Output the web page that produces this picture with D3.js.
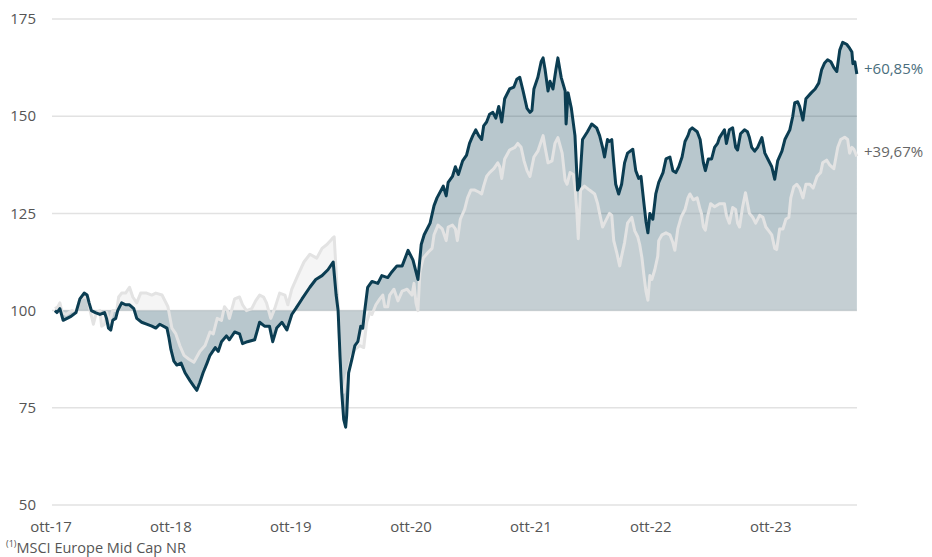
<!DOCTYPE html>
<html lang="it">
<head>
<meta charset="utf-8">
<title>Fondo vs indice</title>
<script src="https://cdn.jsdelivr.net/npm/d3@7"></script>
<style>
  body { margin: 0; background: #fff; }
  svg text { font-family: "Open Sans", "Noto Sans", sans-serif; }
</style>
</head>
<body>
<svg width="932" height="557"></svg>
<script>
// fund (dark line) and benchmark (light line), base 100
const fund = [
  ["2017-10-13",100],["2017-10-19",99.5],["2017-10-28",100.5],["2017-11-07",97.5],["2017-11-19",98],
  ["2017-12-01",98.5],["2017-12-16",99.5],["2017-12-28",103],["2018-01-10",104.5],["2018-01-19",104],
  ["2018-01-25",102],["2018-02-01",100],["2018-02-13",99.5],["2018-02-27",99],["2018-03-13",99.5],
  ["2018-03-19",98],["2018-03-25",95.5],["2018-04-01",95],["2018-04-07",97.5],["2018-04-16",98],
  ["2018-04-22",100],["2018-05-04",102],["2018-05-16",101.5],["2018-05-28",101.5],["2018-06-10",100.5],
  ["2018-06-19",98],["2018-07-04",97],["2018-07-19",96.5],["2018-08-04",96],["2018-08-16",95.5],
  ["2018-08-28",96.5],["2018-09-19",95.5],["2018-09-25",93],["2018-10-01",90],["2018-10-10",87],
  ["2018-10-19",86],["2018-11-01",86.5],["2018-11-13",84],["2018-11-28",82],["2018-12-10",80.5],
  ["2018-12-19",79.5],["2018-12-28",81.5],["2019-01-07",84],["2019-01-19",86.5],["2019-01-28",88.5],
  ["2019-02-13",90.5],["2019-02-22",89.5],["2019-03-04",92],["2019-03-19",93.5],["2019-03-28",92.5],
  ["2019-04-13",94.5],["2019-04-28",94],["2019-05-07",91.5],["2019-05-22",92],["2019-06-13",92.5],
  ["2019-06-28",97],["2019-07-13",96],["2019-07-28",96],["2019-08-07",92],["2019-08-19",95.5],
  ["2019-09-04",97],["2019-09-19",95],["2019-10-04",99],["2019-10-16",100.5],["2019-11-04",103],
  ["2019-11-28",106],["2019-12-16",108],["2020-01-04",109],["2020-01-22",110.5],["2020-02-07",112.5],
  ["2020-02-16",104],["2020-02-22",100],["2020-02-28",88],["2020-03-04",79],["2020-03-10",72],
  ["2020-03-16",70],["2020-03-19",73],["2020-03-25",84],["2020-04-04",87.5],["2020-04-13",91],
  ["2020-04-22",92],["2020-05-01",96],["2020-05-07",95.5],["2020-05-13",100],["2020-05-22",106],
  ["2020-06-04",107.5],["2020-06-22",107],["2020-07-04",109],["2020-07-22",108.5],["2020-08-04",110],
  ["2020-08-19",111.5],["2020-09-04",111.5],["2020-09-22",115.5],["2020-10-07",113],["2020-10-22",108],
  ["2020-11-01",117],["2020-11-10",119.5],["2020-11-28",122.5],["2020-12-10",127],["2020-12-19",129],
  ["2021-01-07",132],["2021-01-16",129.5],["2021-01-22",133],["2021-02-04",134.5],["2021-02-13",137],
  ["2021-02-22",135],["2021-03-07",138.5],["2021-03-19",140],["2021-03-28",143],["2021-04-07",145],
  ["2021-04-16",146.5],["2021-04-25",145],["2021-05-04",144],["2021-05-10",147.5],["2021-05-19",148.5],
  ["2021-05-28",150.5],["2021-06-07",151],["2021-06-16",149.5],["2021-06-25",152.5],["2021-07-04",148.5],
  ["2021-07-13",154.5],["2021-07-28",157],["2021-08-10",157.5],["2021-08-19",159.5],["2021-08-28",160],
  ["2021-09-07",156.5],["2021-09-19",152],["2021-09-28",151],["2021-10-04",151.5],["2021-10-10",157],
  ["2021-10-22",160],["2021-11-01",164],["2021-11-07",165],["2021-11-13",162],["2021-11-22",156.5],
  ["2021-11-28",159],["2021-12-07",157],["2021-12-16",162],["2021-12-22",165],["2022-01-01",160],
  ["2022-01-13",156.5],["2022-01-16",148],["2022-01-22",156],["2022-02-01",152],["2022-02-12",145],
  ["2022-02-20",131],["2022-02-26",132],["2022-03-07",144],["2022-03-22",146],["2022-04-04",148],
  ["2022-04-19",147],["2022-04-28",145],["2022-05-07",142],["2022-05-13",139.5],["2022-05-22",144],
  ["2022-05-28",143.5],["2022-06-04",144],["2022-06-10",138],["2022-06-16",132.5],["2022-06-25",130],
  ["2022-07-04",132.5],["2022-07-13",138],["2022-07-22",140.5],["2022-08-07",141.5],["2022-08-16",136],
  ["2022-08-25",134],["2022-09-01",134.5],["2022-09-10",127.5],["2022-09-16",123],["2022-09-22",120],
  ["2022-09-28",125],["2022-10-07",123.5],["2022-10-16",130],["2022-10-25",133],["2022-11-07",135.5],
  ["2022-11-16",139],["2022-11-28",139.5],["2022-12-07",136],["2022-12-16",135.5],["2022-12-25",137],
  ["2023-01-04",139.5],["2023-01-13",143.5],["2023-01-22",145],["2023-01-28",146.5],["2023-02-04",147],
  ["2023-02-19",146],["2023-02-28",144],["2023-03-04",141.5],["2023-03-10",138],["2023-03-16",136],
  ["2023-03-25",139],["2023-04-04",139],["2023-04-13",142],["2023-04-22",143],["2023-04-28",144.5],
  ["2023-05-13",146.5],["2023-05-19",143],["2023-05-28",146.5],["2023-06-07",147],["2023-06-16",142],
  ["2023-06-22",141.3],["2023-07-01",145.5],["2023-07-13",146.5],["2023-07-22",146],["2023-07-28",144.5],
  ["2023-08-04",142],["2023-08-13",141],["2023-08-22",142],["2023-09-04",144.5],["2023-09-13",140.5],
  ["2023-09-22",139],["2023-10-04",137],["2023-10-13",133.8],["2023-10-22",138.5],["2023-11-04",141],
  ["2023-11-13",144],["2023-11-28",146.5],["2023-12-07",150],["2023-12-13",153.5],["2023-12-22",153.7],
  ["2023-12-28",152.5],["2024-01-07",149],["2024-01-16",154.5],["2024-02-01",156],["2024-02-13",157],
  ["2024-02-24",158.5],["2024-03-04",162],["2024-03-13",163.7],["2024-03-22",164.5],["2024-04-01",164],
  ["2024-04-10",162.5],["2024-04-19",161.5],["2024-04-28",167],["2024-05-07",169],["2024-05-19",168.5],
  ["2024-05-28",167.5],["2024-06-04",166.5],["2024-06-07",163.5],["2024-06-13",164],["2024-06-19",160.85]
];

const benchmark = [
  ["2017-10-13",100.5],["2017-10-22",101],["2017-10-28",102],["2017-11-04",99.5],["2017-11-16",99],
  ["2017-12-04",100],["2017-12-16",99.5],["2017-12-28",103],["2018-01-10",103.5],["2018-01-22",103],
  ["2018-01-28",100],["2018-02-07",96.5],["2018-02-16",99.5],["2018-02-27",100],["2018-03-04",96],
  ["2018-03-13",96.5],["2018-03-19",99.5],["2018-03-28",97],["2018-04-07",100],["2018-04-19",100],
  ["2018-04-25",103.5],["2018-05-04",104.5],["2018-05-16",104.5],["2018-05-28",106],["2018-06-07",103.5],
  ["2018-06-19",102],["2018-07-01",104.5],["2018-07-19",104.5],["2018-08-04",104],["2018-08-16",104.5],
  ["2018-09-04",104],["2018-09-22",101],["2018-10-04",95.5],["2018-10-16",94],["2018-10-28",91],
  ["2018-11-10",88.5],["2018-11-25",87.5],["2018-12-10",86.7],["2018-12-28",89.5],["2019-01-13",91],
  ["2019-01-28",94.5],["2019-02-07",94],["2019-02-19",98],["2019-03-04",97.5],["2019-03-13",101],
  ["2019-03-22",100],["2019-03-28",98],["2019-04-13",103],["2019-04-28",103.5],["2019-05-07",101.5],
  ["2019-05-19",100],["2019-06-04",100.5],["2019-06-16",102.5],["2019-06-28",104],["2019-07-10",103.5],
  ["2019-07-19",102],["2019-08-01",98],["2019-08-13",100.5],["2019-08-28",104.5],["2019-09-13",104],
  ["2019-09-22",101.5],["2019-10-04",105.5],["2019-10-22",109],["2019-11-10",112.5],["2019-11-28",114.5],
  ["2019-12-19",113.5],["2020-01-04",116],["2020-01-19",117],["2020-02-04",118.5],["2020-02-10",119],
  ["2020-02-16",110],["2020-02-22",101],["2020-02-28",88],["2020-03-04",80],["2020-03-10",79],
  ["2020-03-16",82],["2020-03-22",84],["2020-04-04",88.5],["2020-04-13",90],["2020-04-28",91],
  ["2020-05-10",90.5],["2020-05-19",97],["2020-05-28",99.5],["2020-06-04",99],["2020-06-16",101.5],
  ["2020-06-28",103],["2020-07-07",104],["2020-07-13",101],["2020-07-22",101],["2020-07-28",104],
  ["2020-08-10",105.5],["2020-08-22",102.5],["2020-09-04",105],["2020-09-19",105.5],["2020-10-04",104],
  ["2020-10-10",107],["2020-10-16",102],["2020-10-22",100],["2020-10-28",110],["2020-11-07",113.5],
  ["2020-11-22",115],["2020-12-04",116],["2020-12-10",119.5],["2020-12-22",122],["2021-01-04",121],
  ["2021-01-16",118],["2021-01-22",121.5],["2021-02-04",122],["2021-02-13",121],["2021-02-19",118],
  ["2021-02-28",123.5],["2021-03-13",126],["2021-03-22",129],["2021-04-01",131],["2021-04-13",131],
  ["2021-04-25",130.5],["2021-05-04",130],["2021-05-10",132],["2021-05-19",134.5],["2021-05-28",135.5],
  ["2021-06-10",136.5],["2021-06-22",138],["2021-06-28",137],["2021-07-04",134],["2021-07-13",139],
  ["2021-07-28",141.3],["2021-08-13",142],["2021-08-22",143],["2021-09-01",142],["2021-09-10",138.5],
  ["2021-09-19",136],["2021-09-28",134.5],["2021-10-10",139.5],["2021-10-22",141],["2021-11-01",143.5],
  ["2021-11-07",145],["2021-11-13",142],["2021-11-22",138],["2021-12-04",138.5],["2021-12-13",143],
  ["2021-12-22",144.5],["2022-01-04",140.5],["2022-01-13",133.5],["2022-01-19",132.5],["2022-01-28",135.5],
  ["2022-02-07",135],["2022-02-12",132],["2022-02-18",125],["2022-02-22",118.5],["2022-03-01",131],
  ["2022-03-13",132],["2022-03-28",131],["2022-04-13",130],["2022-04-22",127.5],["2022-04-28",125],
  ["2022-05-07",121.5],["2022-05-16",123],["2022-05-28",125],["2022-06-04",124.5],["2022-06-10",118],
  ["2022-06-19",115],["2022-06-28",111.5],["2022-07-04",114],["2022-07-13",117.5],["2022-07-22",122.5],
  ["2022-08-04",124],["2022-08-13",120.5],["2022-08-22",119],["2022-08-28",117],["2022-09-04",113.5],
  ["2022-09-10",109],["2022-09-16",105],["2022-09-22",102.7],["2022-09-28",109],["2022-10-04",108],
  ["2022-10-13",110.5],["2022-10-22",114],["2022-10-25",118],["2022-11-04",119.5],["2022-11-16",120],
  ["2022-11-28",119.5],["2022-12-07",117.5],["2022-12-13",115.5],["2022-12-22",121],["2023-01-01",124],
  ["2023-01-13",126],["2023-01-22",129],["2023-01-28",130],["2023-02-07",128.5],["2023-02-19",129],
  ["2023-02-28",126],["2023-03-04",125],["2023-03-10",121.5],["2023-03-16",120.7],["2023-03-22",124],
  ["2023-04-01",127.5],["2023-04-13",126.7],["2023-04-28",127.5],["2023-05-13",127.5],["2023-05-19",124.5],
  ["2023-05-28",122.5],["2023-06-07",126.5],["2023-06-16",126],["2023-06-22",122.5],["2023-06-28",121.5],
  ["2023-07-07",126.5],["2023-07-16",130.3],["2023-07-28",125],["2023-08-07",124],["2023-08-16",122.5],
  ["2023-08-28",124.5],["2023-09-07",124],["2023-09-16",121.5],["2023-09-25",120.5],["2023-10-04",119.5],
  ["2023-10-13",116],["2023-10-19",115.7],["2023-10-28",121],["2023-11-07",121],["2023-11-16",123.5],
  ["2023-11-25",124],["2023-12-01",129],["2023-12-10",131.8],["2023-12-19",132.5],["2023-12-28",131.5],
  ["2024-01-07",129],["2024-01-16",132.5],["2024-01-28",132.5],["2024-02-07",131.5],["2024-02-19",134.5],
  ["2024-03-01",135.5],["2024-03-07",138],["2024-03-19",138.7],["2024-03-28",137.5],["2024-04-10",136.5],
  ["2024-04-22",142],["2024-05-01",144],["2024-05-13",144.6],["2024-05-22",144],["2024-05-28",140.5],
  ["2024-06-04",142],["2024-06-10",141.5],["2024-06-19",139.67]
];

const yTicks = [50, 75, 100, 125, 150, 175];
const xTickLabels = ["ott-17", "ott-18", "ott-19", "ott-20", "ott-21", "ott-22", "ott-23"];
const endLabels = ["+60,85%", "+39,67%"];
const footnote = "MSCI Europe Mid Cap NR";

const parse = d3.timeParse("%Y-%m-%d");
const fundData = fund.map(d => ({date: parse(d[0]), v: d[1]}));
const benchData = benchmark.map(d => ({date: parse(d[0]), v: d[1]}));

const svg = d3.select("svg");

// scales: october of each year sits 120px apart
const x = d3.scaleTime()
  .domain([new Date(2017, 9, 1), new Date(2024, 9, 1)])
  .range([51, 891]);
const y = d3.scaleLinear().domain([50, 175]).range([505, 19]);

const left = 52, right = 857;

//grid
svg.append("g")
  .selectAll("line")
  .data(yTicks)
  .join("line")
  .attr("x1", left).attr("x2", right)
  .attr("y1", d => y(d)).attr("y2", d => y(d))
  .style("stroke", "#e2e2e2")
  .style("stroke-width", 1.5);

// y labels
svg.append("g")
  .selectAll("text")
  .data(yTicks)
  .join("text")
  .attr("x", 36)
  .attr("y", d => y(d))
  .attr("dy", "0.35em")
  .attr("text-anchor", "end")
  .style("font-size", "15px")
  .style("fill", "#555")
  .text(d => d);

// x labels
const octDates = xTickLabels.map((s, i) => new Date(2017 + i, 9, 1));
svg.append("g")
  .selectAll("text")
  .data(xTickLabels)
  .join("text")
  .attr("x", (d, i) => x(octDates[i]))
  .attr("y", 532)
  .attr("text-anchor", "middle")
  .style("font-size", "15px")
  .style("fill", "#555")
  .text(d => d);

// areas relative to base 100
const area = d3.area()
  .x(d => x(d.date))
  .y0(y(100))
  .y1(d => y(d.v));

svg.append("path")
  .datum(fundData)
  .attr("d", area)
  .style("fill", "#0b3d52")
  .style("fill-opacity", 0.29);

svg.append("path")
  .datum(benchData)
  .attr("d", area)
  .style("fill", "#e0e0e0")
  .style("fill-opacity", 0.32);

const line = d3.line()
  .x(d => x(d.date))
  .y(d => y(d.v));

svg.append("path")
  .datum(benchData)
  .attr("d", line)
  .style("fill", "none")
  .style("stroke", "#e3e3e3")
  .style("stroke-width", 3)
  .style("stroke-linejoin", "round");

svg.append("path")
  .datum(fundData)
  .attr("d", line)
  .style("fill", "none")
  .style("stroke", "#0b3d52")
  .style("stroke-width", 3)
  .style("stroke-linejoin", "round");

// end labels
svg.append("text")
  .attr("x", 864).attr("y", 69).attr("dy", "0.35em")
  .style("font-size", "15px").style("fill", "#4a6e7d")
  .text(endLabels[0]);
svg.append("text")
  .attr("x", 864).attr("y", 151.5).attr("dy", "0.35em")
  .style("font-size", "15px").style("fill", "#666")
  .text(endLabels[1]);

// footnote
const foot = svg.append("text")
  .attr("x", 6).attr("y", 553)
  .style("font-size", "14.5px").style("fill", "#555");
foot.append("tspan").attr("dy", -6).style("font-size", "9px").text("(1)");
foot.append("tspan").attr("dy", 6).text(footnote);
</script>
</body>
</html>
